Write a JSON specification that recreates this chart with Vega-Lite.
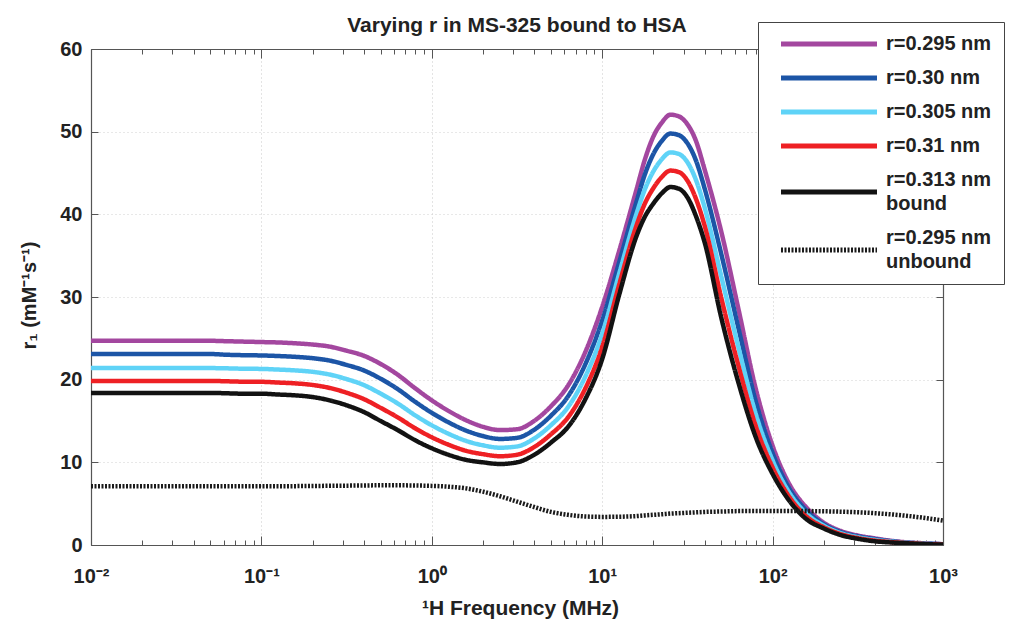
{
 "$schema": "https://vega.github.io/schema/vega-lite/v6.json",
 "width": 852, "height": 496,
 "autosize": {"type": "none"},
 "padding": {"left": 91, "top": 49, "right": 87, "bottom": 76},
 "background": "white",
 "title": {"text": "Varying r in MS-325 bound to HSA", "font": "Liberation Sans", "fontSize": 21, "fontWeight": "bold", "color": "#222", "anchor": "middle", "offset": 16, "dy": 30},
 "config": {"view": {"stroke": null}, "font": "Liberation Sans", "style": {"guide-label": {"lineHeight": 24}}},
 "data": {"values": [
  {"f":0.01,"a":24.7,"b":23.1,"c":21.4,"d":19.85,"e":18.4,"u":7.1},
  {"f":0.012589,"a":24.7,"b":23.1,"c":21.4,"d":19.85,"e":18.4,"u":7.1},
  {"f":0.015849,"a":24.7,"b":23.1,"c":21.4,"d":19.85,"e":18.4,"u":7.1},
  {"f":0.019953,"a":24.7,"b":23.1,"c":21.4,"d":19.85,"e":18.4,"u":7.1},
  {"f":0.025119,"a":24.7,"b":23.1,"c":21.4,"d":19.85,"e":18.4,"u":7.1},
  {"f":0.031623,"a":24.7,"b":23.1,"c":21.4,"d":19.85,"e":18.4,"u":7.1},
  {"f":0.039811,"a":24.7,"b":23.1,"c":21.4,"d":19.85,"e":18.4,"u":7.1},
  {"f":0.050119,"a":24.7,"b":23.1,"c":21.4,"d":19.85,"e":18.4,"u":7.1},
  {"f":0.063096,"a":24.65,"b":23.01,"c":21.37,"d":19.8,"e":18.35,"u":7.1},
  {"f":0.079433,"a":24.6,"b":22.96,"c":21.32,"d":19.75,"e":18.3,"u":7.1},
  {"f":0.1,"a":24.55,"b":22.93,"c":21.3,"d":19.74,"e":18.3,"u":7.1},
  {"f":0.12589,"a":24.5,"b":22.86,"c":21.22,"d":19.65,"e":18.2,"u":7.1},
  {"f":0.15849,"a":24.4,"b":22.76,"c":21.12,"d":19.55,"e":18.1,"u":7.12},
  {"f":0.19953,"a":24.25,"b":22.6,"c":20.95,"d":19.36,"e":17.9,"u":7.14},
  {"f":0.25119,"a":24.0,"b":22.31,"c":20.62,"d":19.0,"e":17.5,"u":7.16},
  {"f":0.31623,"a":23.5,"b":21.78,"c":20.07,"d":18.42,"e":16.9,"u":7.18},
  {"f":0.39811,"a":22.9,"b":21.13,"c":19.36,"d":17.66,"e":16.1,"u":7.2},
  {"f":0.50119,"a":21.9,"b":20.11,"c":18.31,"d":16.59,"e":15.0,"u":7.22},
  {"f":0.63096,"a":20.6,"b":18.86,"c":17.12,"d":15.44,"e":13.9,"u":7.22},
  {"f":0.79433,"a":19.0,"b":17.36,"c":15.72,"d":14.15,"e":12.7,"u":7.2},
  {"f":1,"a":17.5,"b":15.99,"c":14.48,"d":13.03,"e":11.7,"u":7.15},
  {"f":1.2589,"a":16.2,"b":14.82,"c":13.44,"d":12.12,"e":10.9,"u":7.05},
  {"f":1.5849,"a":15.1,"b":13.85,"c":12.6,"d":11.4,"e":10.3,"u":6.85},
  {"f":1.9953,"a":14.3,"b":13.18,"c":12.06,"d":10.99,"e":10.0,"u":6.45},
  {"f":2.5119,"a":13.9,"b":12.83,"c":11.77,"d":10.74,"e":9.8,"u":5.9},
  {"f":3.1623,"a":14.0,"b":12.96,"c":11.92,"d":10.92,"e":10.0,"u":5.25},
  {"f":3.9811,"a":15.0,"b":13.93,"c":12.87,"d":11.84,"e":10.9,"u":4.6},
  {"f":5.0119,"a":16.8,"b":15.66,"c":14.51,"d":13.41,"e":12.4,"u":4.0},
  {"f":6.3096,"a":19.3,"b":18.0,"c":16.7,"d":15.45,"e":14.3,"u":3.65},
  {"f":7.9433,"a":23.3,"b":21.82,"c":20.34,"d":18.91,"e":17.6,"u":3.45},
  {"f":10,"a":28.8,"b":27.16,"c":25.52,"d":23.95,"e":22.5,"u":3.4},
  {"f":12.589,"a":35.6,"b":34.22,"c":32.84,"d":31.52,"e":30.3,"u":3.42},
  {"f":15.849,"a":42.9,"b":41.44,"c":39.98,"d":38.57,"e":37.3,"u":3.5},
  {"f":17.783,"a":46.6,"b":44.81,"c":43.01,"d":41.29,"e":39.7,"u":3.58},
  {"f":19.953,"a":49.4,"b":47.29,"c":45.19,"d":43.16,"e":41.3,"u":3.65},
  {"f":22.387,"a":51.1,"b":48.88,"c":46.66,"d":44.52,"e":42.55,"u":3.72},
  {"f":25.119,"a":52.05,"b":49.77,"c":47.49,"d":45.29,"e":43.3,"u":3.8},
  {"f":28.184,"a":51.85,"b":49.58,"c":47.3,"d":45.11,"e":43.1,"u":3.85},
  {"f":31.623,"a":50.9,"b":48.6,"c":46.3,"d":44.08,"e":42.05,"u":3.9},
  {"f":35.481,"a":48.9,"b":46.53,"c":44.17,"d":41.89,"e":39.8,"u":3.95},
  {"f":39.811,"a":45.5,"b":43.21,"c":40.92,"d":38.72,"e":36.7,"u":4.0},
  {"f":50.119,"a":37.8,"b":35.1,"c":32.39,"d":29.79,"e":27.4,"u":4.05},
  {"f":63.096,"a":28.5,"b":26.19,"c":23.87,"d":21.65,"e":19.6,"u":4.1},
  {"f":79.433,"a":19.0,"b":17.47,"c":15.93,"d":14.46,"e":13.1,"u":4.1},
  {"f":100,"a":12.0,"b":11.12,"c":10.23,"d":9.38,"e":8.6,"u":4.1},
  {"f":125.89,"a":7.3,"b":6.78,"c":6.26,"d":5.76,"e":5.3,"u":4.1},
  {"f":158.49,"a":4.5,"b":4.14,"c":3.77,"d":3.42,"e":3.1,"u":4.1},
  {"f":199.53,"a":2.7,"b":2.52,"c":2.34,"d":2.16,"e":2.0,"u":4.08},
  {"f":251.19,"a":1.7,"b":1.57,"c":1.44,"d":1.32,"e":1.2,"u":4.03},
  {"f":316.23,"a":1.15,"b":1.05,"c":0.94,"d":0.84,"e":0.75,"u":3.96},
  {"f":398.11,"a":0.8,"b":0.71,"c":0.62,"d":0.53,"e":0.45,"u":3.85},
  {"f":501.19,"a":0.5,"b":0.45,"c":0.4,"d":0.35,"e":0.3,"u":3.7},
  {"f":630.96,"a":0.3,"b":0.27,"c":0.25,"d":0.22,"e":0.2,"u":3.5},
  {"f":794.33,"a":0.2,"b":0.17,"c":0.15,"d":0.12,"e":0.1,"u":3.25},
  {"f":1000,"a":0.1,"b":0.09,"c":0.07,"d":0.06,"e":0.05,"u":2.95}
 ]},
 "transform": [{"fold": ["a","b","c","d","e","u"], "as": ["key","value"]}],
 "layer": [
  {
   "mark": {"type": "line", "strokeWidth": 4.5, "interpolate": "monotone", "clip": true},
   "encoding": {
    "x": {"field": "f", "type": "quantitative",
      "scale": {"type": "log", "domain": [0.01, 1000], "nice": false},
      "axis": {
        "orient": "bottom",
        "values": [0.01,0.02,0.03,0.04,0.05,0.06,0.07,0.08,0.09,0.1,0.2,0.3,0.4,0.5,0.6,0.7,0.8,0.9,1,2,3,4,5,6,7,8,9,10,20,30,40,50,60,70,80,90,100,200,300,400,500,600,700,800,900,1000],
        "title": "¹H Frequency (MHz)",
        "titleFont": "Liberation Sans", "titleFontSize": 21, "titleFontWeight": "bold", "titleColor": "#222",
        "titleX": 429, "titleY": 63, "titleBaseline": "middle", "titleAlign": "center",
        "labelExpr": "datum.value == 0.01 ? '10⁻²' : datum.value == 0.1 ? '10⁻¹' : datum.value == 1 ? '10⁰' : datum.value == 10 ? '10¹' : datum.value == 100 ? '10²' : datum.value == 1000 ? '10³' : ''",
        "labelFont": "Liberation Sans", "labelFontSize": 20, "labelFontWeight": "bold", "labelColor": "#222",
        "labelPadding": 30, "labelFlush": false, "labelOverlap": false, "labelBound": false,
        "tickSize": {"condition": {"test": "abs(log(datum.value)/LN10 - round(log(datum.value)/LN10)) < 0.001", "value": -9}, "value": -5},
        "tickColor": "#555", "tickWidth": 1,
        "domainColor": "#555", "domainWidth": 1.2,
        "grid": true, "gridColor": "#c8c8c8", "gridDash": [1, 3], "gridWidth": 1,
        "gridOpacity": {"condition": {"test": "abs(log(datum.value)/LN10 - round(log(datum.value)/LN10)) < 0.001", "value": 1}, "value": 0}
      }},
    "y": {"field": "value", "type": "quantitative",
      "scale": {"domain": [0, 60], "nice": false},
      "axis": {
        "orient": "left",
        "values": [0, 10, 20, 30, 40, 50, 60],
        "title": "r₁ (mM⁻¹s⁻¹)",
        "titleFont": "Liberation Sans", "titleFontSize": 20, "titleFontWeight": "bold", "titleColor": "#222",
        "titleX": -62, "titleY": 246, "titleAngle": -90, "titleBaseline": "middle", "titleAlign": "center",
        "labelFont": "Liberation Sans", "labelFontSize": 20, "labelFontWeight": "bold", "labelColor": "#222",
        "labelPadding": 16,
        "tickSize": -7, "tickColor": "#555", "tickWidth": 1,
        "domainColor": "#555", "domainWidth": 1.2,
        "grid": true, "gridColor": "#d0d0d0", "gridDash": [1, 3], "gridWidth": 1
      }},
    "color": {"field": "key", "type": "nominal",
      "scale": {"domain": ["a","b","c","d","e","u"], "range": ["#a3479f", "#1c55a6", "#5fd3f7", "#ee2024", "#121212", "#1a1a1a"]},
      "legend": {
        "title": null, "orient": "none", "legendX": 667, "legendY": -27,
        "symbolType": "M-8,0H8", "symbolSize": 144, "symbolStrokeWidth": 5,
        "labelFont": "Liberation Sans", "labelFontSize": 20, "labelFontWeight": "bold", "labelColor": "#222",
        "labelOffset": 47, "labelLimit": 300,
        "labelBaseline": {"expr": "datum.value == 'e' || datum.value == 'u' ? 'line-bottom' : 'middle'"},
        "labelExpr": "datum.label == 'a' ? 'r=0.295 nm' : datum.label == 'b' ? 'r=0.30 nm' : datum.label == 'c' ? 'r=0.305 nm\u00a0\u00a0' : datum.label == 'd' ? 'r=0.31 nm' : datum.label == 'e' ? ['r=0.313 nm', 'bound'] : ['r=0.295 nm', ' unbound']",
        "strokeColor": "#444", "fillColor": "white", "padding": 12, "rowPadding": 14, "symbolOffset": 49
      }},
    "strokeDash": {"field": "key", "type": "nominal",
      "scale": {"domain": ["a","b","c","d","e","u"], "range": [[1,0],[1,0],[1,0],[1,0],[1,0],[2,1.5]]},
      "legend": {
        "title": null, "orient": "none", "legendX": 667, "legendY": -27,
        "symbolType": "M-8,0H8", "symbolSize": 144, "symbolStrokeWidth": 5,
        "labelFont": "Liberation Sans", "labelFontSize": 20, "labelFontWeight": "bold", "labelColor": "#222",
        "labelOffset": 47, "labelLimit": 300,
        "labelBaseline": {"expr": "datum.value == 'e' || datum.value == 'u' ? 'line-bottom' : 'middle'"},
        "labelExpr": "datum.label == 'a' ? 'r=0.295 nm' : datum.label == 'b' ? 'r=0.30 nm' : datum.label == 'c' ? 'r=0.305 nm\u00a0\u00a0' : datum.label == 'd' ? 'r=0.31 nm' : datum.label == 'e' ? ['r=0.313 nm', 'bound'] : ['r=0.295 nm', ' unbound']",
        "strokeColor": "#444", "fillColor": "white", "padding": 12, "rowPadding": 14, "symbolOffset": 49
      }}
   }
  },
  {
   "mark": {"type": "line", "opacity": 0},
   "encoding": {
    "x": {"field": "f", "type": "quantitative",
      "scale": {"type": "log", "domain": [0.01, 1000], "nice": false},
      "axis": {
        "orient": "top",
        "values": [0.01,0.02,0.03,0.04,0.05,0.06,0.07,0.08,0.09,0.1,0.2,0.3,0.4,0.5,0.6,0.7,0.8,0.9,1,2,3,4,5,6,7,8,9,10,20,30,40,50,60,70,80,90,100,200,300,400,500,600,700,800,900,1000],
        "labels": false, "title": null, "grid": false,
        "tickSize": {"condition": {"test": "abs(log(datum.value)/LN10 - round(log(datum.value)/LN10)) < 0.001", "value": -9}, "value": -5},
        "tickColor": "#555", "tickWidth": 1, "domainColor": "#555", "domainWidth": 1.2
      }},
    "y": {"field": "value", "type": "quantitative",
      "scale": {"domain": [0, 60], "nice": false},
      "axis": {
        "orient": "right", "values": [0, 10, 20, 30, 40, 50, 60],
        "labels": false, "title": null, "grid": false,
        "tickSize": -7, "tickColor": "#555", "tickWidth": 1, "domainColor": "#555", "domainWidth": 1.2
      }},
    "detail": {"field": "key", "type": "nominal"}
   }
  }
 ],
 "resolve": {"axis": {"x": "independent", "y": "independent"}}
}
